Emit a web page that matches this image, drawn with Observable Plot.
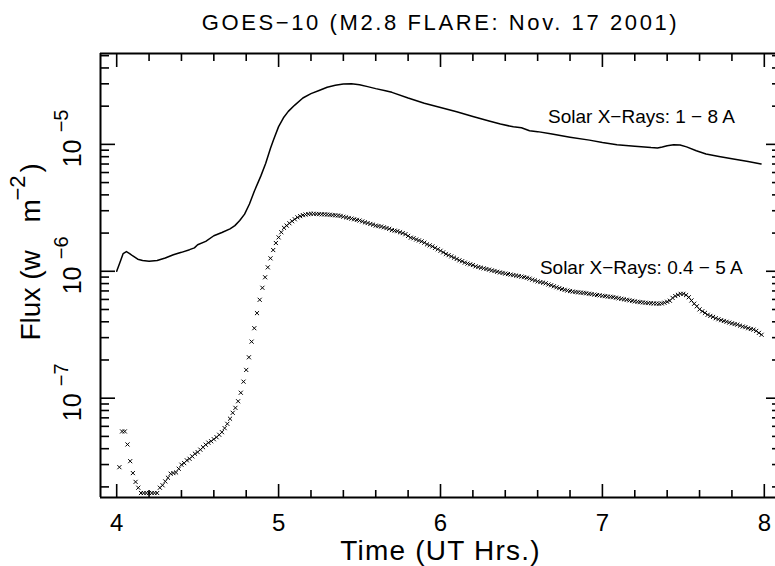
<!DOCTYPE html>
<html>
<head>
<meta charset="utf-8">
<script src="https://cdn.jsdelivr.net/npm/d3@7"></script>
<script src="https://cdn.jsdelivr.net/npm/@observablehq/plot@0.6"></script>
<style>
  html, body { margin: 0; padding: 0; background: white; overflow: hidden; }
  #chart { width: 775px; height: 566px; overflow: hidden; }
</style>
</head>
<body>
<div id="chart"></div>
<script>
// GOES-10 X-ray flux, M2.8 flare of 2001 Nov 17

// Long channel, 1 - 8 A (drawn as a line)
const hardHours = [
  4.00, 4.02, 4.04, 4.06, 4.08, 4.10, 4.13, 4.16, 4.20, 4.25,
  4.30, 4.35, 4.40, 4.45, 4.48, 4.50, 4.55, 4.60, 4.65, 4.70,
  4.73, 4.76, 4.79, 4.82, 4.85, 4.89, 4.92, 4.95, 4.97, 5.00,
  5.03, 5.06, 5.10, 5.15, 5.20, 5.25, 5.30, 5.35, 5.40, 5.45,
  5.50, 5.55, 5.60, 5.66, 5.70, 5.80, 5.90, 6.00, 6.10, 6.20,
  6.30, 6.37, 6.45, 6.50, 6.55, 6.60, 6.68, 6.80, 6.92, 7.00,
  7.09, 7.20, 7.30, 7.34, 7.37, 7.40, 7.44, 7.48, 7.52, 7.58,
  7.64, 7.72, 7.80, 7.90, 7.98
];
const hardFlux = [
  1.00e-6, 1.175e-6, 1.38e-6, 1.43e-6, 1.38e-6, 1.32e-6, 1.245e-6, 1.216e-6, 1.20e-6, 1.216e-6,
  1.274e-6, 1.35e-6, 1.41e-6, 1.48e-6, 1.53e-6, 1.62e-6, 1.72e-6, 1.905e-6, 2.02e-6, 2.16e-6,
  2.29e-6, 2.51e-6, 2.82e-6, 3.39e-6, 4.27e-6, 5.62e-6, 7.08e-6, 9.33e-6, 1.096e-5, 1.38e-5,
  1.62e-5, 1.82e-5, 2.04e-5, 2.32e-5, 2.51e-5, 2.66e-5, 2.82e-5, 2.92e-5, 2.985e-5, 3.005e-5,
  2.95e-5, 2.85e-5, 2.75e-5, 2.65e-5, 2.57e-5, 2.32e-5, 2.11e-5, 1.95e-5, 1.81e-5, 1.66e-5,
  1.53e-5, 1.445e-5, 1.374e-5, 1.35e-5, 1.28e-5, 1.26e-5, 1.21e-5, 1.14e-5, 1.08e-5, 1.035e-5,
  9.95e-6, 9.66e-6, 9.44e-6, 9.38e-6, 9.55e-6, 9.77e-6, 9.95e-6, 9.89e-6, 9.55e-6, 8.91e-6,
  8.39e-6, 8.04e-6, 7.71e-6, 7.33e-6, 7.01e-6
];

// Short channel, 0.4 - 5 A (one-minute samples from 04:01 UT, drawn as x markers)
const softStartHour = 4 + 1 / 60;
const softCadenceHours = 1 / 60;
const softFlux = [
  2.86e-8, 5.47e-8, 5.47e-8, 4.32e-8, 3.19e-8, 2.57e-8, 2.19e-8, 1.97e-8, 1.79e-8, 1.79e-8,
  1.79e-8, 1.79e-8, 1.79e-8, 1.79e-8, 1.79e-8, 1.97e-8, 2.06e-8, 2.21e-8, 2.36e-8, 2.54e-8,
  2.57e-8, 2.60e-8, 2.78e-8, 2.99e-8, 3.08e-8, 3.24e-8, 3.33e-8, 3.48e-8, 3.65e-8, 3.76e-8,
  3.93e-8, 4.11e-8, 4.30e-8, 4.46e-8, 4.58e-8, 4.75e-8, 4.93e-8, 5.15e-8, 5.40e-8, 5.81e-8,
  6.28e-8, 6.89e-8, 7.67e-8, 8.39e-8, 9.46e-8, 1.104e-7, 1.35e-7, 1.67e-7, 2.10e-7, 2.79e-7,
  3.56e-7, 4.68e-7, 5.96e-7, 7.41e-7, 8.97e-7, 1.074e-6, 1.265e-6, 1.47e-6, 1.67e-6, 1.85e-6,
  2.03e-6, 2.20e-6, 2.29e-6, 2.39e-6, 2.48e-6, 2.57e-6, 2.66e-6, 2.72e-6, 2.77e-6, 2.80e-6,
  2.82e-6, 2.84e-6, 2.84e-6, 2.83e-6, 2.82e-6, 2.81e-6, 2.81e-6, 2.80e-6, 2.79e-6, 2.77e-6,
  2.76e-6, 2.75e-6, 2.73e-6, 2.69e-6, 2.66e-6, 2.63e-6, 2.60e-6, 2.57e-6, 2.54e-6, 2.51e-6,
  2.47e-6, 2.43e-6, 2.40e-6, 2.36e-6, 2.33e-6, 2.29e-6, 2.27e-6, 2.25e-6, 2.22e-6, 2.19e-6,
  2.16e-6, 2.11e-6, 2.09e-6, 2.07e-6, 2.03e-6, 2.00e-6, 1.96e-6, 1.90e-6, 1.84e-6, 1.82e-6,
  1.78e-6, 1.75e-6, 1.72e-6, 1.68e-6, 1.63e-6, 1.60e-6, 1.57e-6, 1.53e-6, 1.49e-6, 1.45e-6,
  1.41e-6, 1.37e-6, 1.34e-6, 1.31e-6, 1.28e-6, 1.25e-6, 1.22e-6, 1.20e-6, 1.17e-6, 1.15e-6,
  1.135e-6, 1.12e-6, 1.094e-6, 1.08e-6, 1.067e-6, 1.054e-6, 1.042e-6, 1.03e-6, 1.016e-6, 1.005e-6,
  9.91e-7, 9.79e-7, 9.70e-7, 9.59e-7, 9.51e-7, 9.42e-7, 9.33e-7, 9.25e-7, 9.16e-7, 9.08e-7,
  8.99e-7, 8.89e-7, 8.75e-7, 8.59e-7, 8.47e-7, 8.32e-7, 8.22e-7, 8.13e-7, 8.04e-7, 7.87e-7,
  7.76e-7, 7.62e-7, 7.48e-7, 7.36e-7, 7.24e-7, 7.14e-7, 7.05e-7, 6.98e-7, 6.92e-7, 6.87e-7,
  6.82e-7, 6.79e-7, 6.76e-7, 6.71e-7, 6.65e-7, 6.61e-7, 6.55e-7, 6.50e-7, 6.46e-7, 6.41e-7,
  6.37e-7, 6.32e-7, 6.30e-7, 6.25e-7, 6.19e-7, 6.12e-7, 6.07e-7, 6.01e-7, 5.96e-7, 5.90e-7,
  5.85e-7, 5.79e-7, 5.75e-7, 5.71e-7, 5.68e-7, 5.65e-7, 5.62e-7, 5.60e-7, 5.58e-7, 5.57e-7,
  5.55e-7, 5.58e-7, 5.65e-7, 5.75e-7, 5.86e-7, 6.17e-7, 6.38e-7, 6.52e-7, 6.64e-7, 6.64e-7,
  6.49e-7, 6.24e-7, 5.89e-7, 5.55e-7, 5.30e-7, 5.01e-7, 4.84e-7, 4.70e-7, 4.54e-7, 4.45e-7,
  4.37e-7, 4.27e-7, 4.19e-7, 4.12e-7, 4.06e-7, 4.00e-7, 3.94e-7, 3.89e-7, 3.84e-7, 3.80e-7,
  3.73e-7, 3.67e-7, 3.63e-7, 3.56e-7, 3.51e-7, 3.47e-7, 3.39e-7, 3.27e-7, 3.16e-7
];

// Curve labels
const labelText = ["Solar X\u2212Rays: 1 \u2212 8 A", "Solar X\u2212Rays: 0.4 \u2212 5 A"];
const labelHours = [6.664, 6.614];
const labelFlux = [1.65e-5, 1.07e-6];

// Axis extents and ticks
const xDomain = [3.9, 8.1];
const yDomain = [1.65e-8, 5.2e-5];
const xMajorTicks = [4, 5, 6, 7, 8];
const xTickLabels = ["4", "5", "6", "7", "8"];
const xMinorTicks = [4.2, 4.4, 4.6, 4.8, 5.2, 5.4, 5.6, 5.8, 6.2, 6.4, 6.6, 6.8, 7.2, 7.4, 7.6, 7.8];
const yMajorTicks = [1e-7, 1e-6, 1e-5];
const yTickExponents = ["\u22127", "\u22126", "\u22125"];
const yMinorTicks = [
  2e-8, 3e-8, 4e-8, 5e-8, 6e-8, 7e-8, 8e-8, 9e-8,
  2e-7, 3e-7, 4e-7, 5e-7, 6e-7, 7e-7, 8e-7, 9e-7,
  2e-6, 3e-6, 4e-6, 5e-6, 6e-6, 7e-6, 8e-6, 9e-6,
  2e-5, 3e-5, 4e-5, 5e-5
];

const hardData = hardHours.map((h, i) => ({hour: h, flux: hardFlux[i]}));
const softData = softFlux.map((f, i) => ({hour: softStartHour + i * softCadenceHours, flux: f}));
const labels = labelText.map((t, i) => ({text: t, hour: labelHours[i], flux: labelFlux[i]}));

const font = "'Liberation Sans', Arial, sans-serif";
const blank = () => "";
const tick = {tickFormat: blank, label: null, strokeWidth: 1.6};
const vtext = {frameAnchor: "left", rotate: -90, textAnchor: "start", lineAnchor: "middle"};

// The right-hand frame edge sits just past the window, as in the original figure;
// the svg is 780 wide and the page clips it at 775.
const chart = Plot.plot({
  width: 780,
  height: 566,
  marginLeft: 100,
  marginRight: 0,
  marginTop: 53,
  marginBottom: 69,
  style: {fontFamily: font, background: "white", color: "black", maxWidth: "none"},
  x: {domain: xDomain, axis: null},
  y: {type: "log", domain: yDomain, axis: null},
  marks: [
    // box: top, bottom and left edges
    Plot.ruleY(yDomain, {stroke: "black", strokeWidth: 2}),
    Plot.ruleX(xDomain.slice(0, 1), {stroke: "black", strokeWidth: 2}),

    // inward ticks on all four sides
    Plot.axisX({anchor: "bottom", ticks: xMajorTicks, tickSize: -13, ...tick}),
    Plot.axisX({anchor: "bottom", ticks: xMinorTicks, tickSize: -7, ...tick}),
    Plot.axisX({anchor: "top", ticks: xMajorTicks, tickSize: -13, ...tick}),
    Plot.axisX({anchor: "top", ticks: xMinorTicks, tickSize: -7, ...tick}),
    Plot.axisY({anchor: "left", ticks: yMajorTicks, tickSize: -15, ...tick}),
    Plot.axisY({anchor: "left", ticks: yMinorTicks, tickSize: -9, ...tick}),
    Plot.axisY({anchor: "right", ticks: yMajorTicks, tickSize: -15, ...tick}),
    Plot.axisY({anchor: "right", ticks: yMinorTicks, tickSize: -9, ...tick}),

    // x tick labels and title
    Plot.text(xMajorTicks, {x: d => d, frameAnchor: "bottom", lineAnchor: "middle", text: (d, i) => xTickLabels[i], dy: 26, fontSize: 24}),
    Plot.text(["Time (UT Hrs.)"], {frameAnchor: "bottom", lineAnchor: "middle", text: d => d, dy: 54, fontSize: 28}),

    // y tick labels: rotated 10 with a raised exponent
    Plot.text(yMajorTicks, {y: d => d, ...vtext, text: () => "10", dx: -27.5, dy: 23, fontSize: 25}),
    Plot.text(yMajorTicks, {y: d => d, ...vtext, text: (d, i) => yTickExponents[i], dx: -38.5, dy: -12, fontSize: 20}),

    // y title, in pieces so the superscript can sit higher
    Plot.text(["Flux (w"], {...vtext, text: d => d, dx: -69, dy: 65, fontSize: 28}),
    Plot.text(["m"], {...vtext, text: d => d, dx: -69, dy: -53, fontSize: 28}),
    Plot.text(["\u22122"], {...vtext, text: d => d, dx: -82.5, dy: -75, fontSize: 22}),
    Plot.text([")"], {...vtext, text: d => d, dx: -69, dy: -103, fontSize: 28}),

    // title
    Plot.text(["GOES\u221210 (M2.8 FLARE: Nov. 17 2001)"], {frameAnchor: "top", lineAnchor: "middle", text: d => d, dy: -31, fontSize: 22}),

    // data
    Plot.line(hardData, {x: "hour", y: "flux", stroke: "black", strokeWidth: 1.5}),
    Plot.dot(softData, {x: "hour", y: "flux", symbol: "times", r: 2, stroke: "black", strokeWidth: 1}),

    Plot.text(labels, {x: "hour", y: "flux", text: "text", textAnchor: "start", lineAnchor: "middle", fontSize: 19})
  ]
});

// the original lettering is wide-set; spread the title and x label to match
d3.select(chart).selectAll("text")
  .filter(function () { return this.textContent.startsWith("GOES"); })
  .style("letter-spacing", "2.6px");
d3.select(chart).selectAll("text")
  .filter(function () { return this.textContent.startsWith("Time"); })
  .style("letter-spacing", "1.2px");

document.getElementById("chart").appendChild(chart);
</script>
</body>
</html>
